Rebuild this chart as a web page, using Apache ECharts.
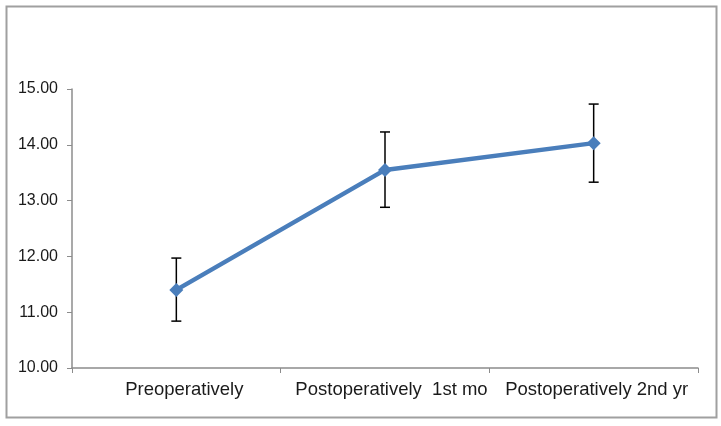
<!DOCTYPE html>
<html><head><meta charset="utf-8">
<script src="https://cdn.jsdelivr.net/npm/echarts@6/dist/echarts.min.js"></script>
<style>html,body{margin:0;padding:0;background:#fff}#c{width:721px;height:426px}</style>
</head><body><div id="c"></div>
<script>
const categories = ['Preoperatively', 'Postoperatively  1st mo', 'Postoperatively 2nd yr'];
const means = [11.40, 13.55, 14.03];
const lower = [10.84, 12.88, 13.33];
const upper = [11.97, 14.23, 14.73];

const chart = echarts.init(document.getElementById('c'));
const font = 'Liberation Sans, Arial, sans-serif';
const labelShift = [16, 13, 6];
const rich = {};
labelShift.forEach((p, i) => {
  rich['l' + i] = { padding: [0, 0, 0, p], fontSize: 18.5, fontFamily: font, color: '#1a1a1a' };
});
chart.setOption({
  animation: false,
  backgroundColor: '#fff',
  graphic: [{
    type: 'rect', shape: { x: 6.5, y: 6.5, width: 710, height: 411 },
    style: { fill: 'none', stroke: '#a0a0a0', lineWidth: 2 }, silent: true
  }],
  grid: { left: 72, right: 23, top: 89, bottom: 58 },
  xAxis: {
    type: 'category', data: categories, boundaryGap: true,
    axisLine: { lineStyle: { color: '#8c8c8c', width: 1.5 } },
    axisTick: { show: true, length: 5, lineStyle: { color: '#8c8c8c' } },
    axisLabel: { color: '#1a1a1a', fontSize: 18.5, fontFamily: font, margin: 12, interval: 0,
      formatter: (v, i) => '{l' + i + '|' + v + '}', rich: rich }
  },
  yAxis: {
    type: 'value', min: 10, max: 15, interval: 1,
    axisLine: { show: true, lineStyle: { color: '#8c8c8c', width: 1.5 } },
    axisTick: { show: true, length: 5, lineStyle: { color: '#8c8c8c' } },
    splitLine: { show: false },
    axisLabel: { color: '#1a1a1a', fontSize: 16, fontFamily: font, margin: 14,
      formatter: v => v.toFixed(2) }
  },
  series: [
    {
      type: 'custom', z: 1,
      data: categories.map((c, i) => [i, lower[i], upper[i]]),
      renderItem: function (params, api) {
        const x = api.coord([api.value(0), 0])[0];
        const lo = api.coord([api.value(0), api.value(1)])[1];
        const hi = api.coord([api.value(0), api.value(2)])[1];
        const w = 5;
        const st = { stroke: '#000', lineWidth: 1.5 };
        return { type: 'group', children: [
          { type: 'line', shape: { x1: x, y1: lo, x2: x, y2: hi }, style: st },
          { type: 'line', shape: { x1: x - w, y1: lo, x2: x + w, y2: lo }, style: st },
          { type: 'line', shape: { x1: x - w, y1: hi, x2: x + w, y2: hi }, style: st }
        ]};
      }
    },
    {
      type: 'line', z: 3, data: means,
      symbol: 'diamond', symbolSize: 14,
      lineStyle: { color: '#4a7ebb', width: 4.5 },
      itemStyle: { color: '#4a7ebb' }
    }
  ]
});
</script></body></html>
